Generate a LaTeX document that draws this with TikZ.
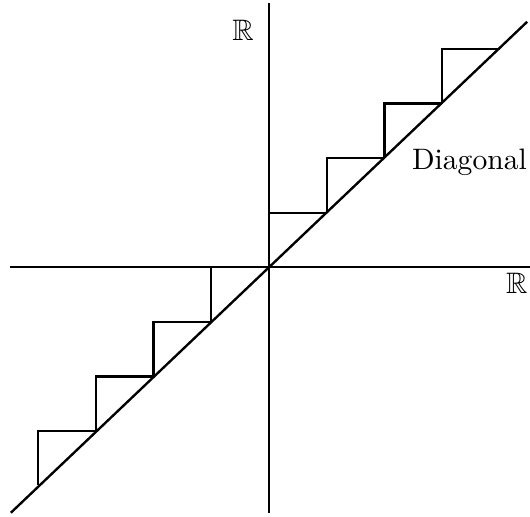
\documentclass[tikz,border=0pt]{standalone}
\usepackage{amssymb}
\usetikzlibrary{positioning}

\begin{document}
\begin{tikzpicture}[
x=0.686cm, y=0.648cm,
axis/.style={line width=0.8pt},
stair/.style={line width=0.8pt},
lbl/.style={inner sep=1pt}
]
\useasboundingbox (-4.658,-4.569) rectangle (4.519,4.899);

% axes
\coordinate (eje_izq) at (-4.48,0);
\coordinate (eje_der) at (4.52,0);
\coordinate (eje_abajo) at (0,-4.5);
\coordinate (eje_arriba) at (0,4.85);
\draw[axis] (eje_izq) -- (eje_der);
\draw[axis] (eje_abajo) -- (eje_arriba);

% diagonal
\coordinate (diag_ini) at (-4.47,-4.5);
\coordinate (diag_fin) at (4.47,4.5);
\draw[axis] (diag_ini) -- (diag_fin);

% escalones
\foreach \n in {-3,...,4}
  \draw[stair] (\n-1,\n-1) -- (\n-1,\n) -- (\n,\n);

\node[lbl] (real_y) at (-0.45,4.35) {$\mathbb{R}$};
\node[lbl] (real_x) at (4.29,-0.29) {$\mathbb{R}$};
\node[lbl] (diag_txt) at (3.47,1.93) {Diagonal};

\end{tikzpicture}
\end{document}
